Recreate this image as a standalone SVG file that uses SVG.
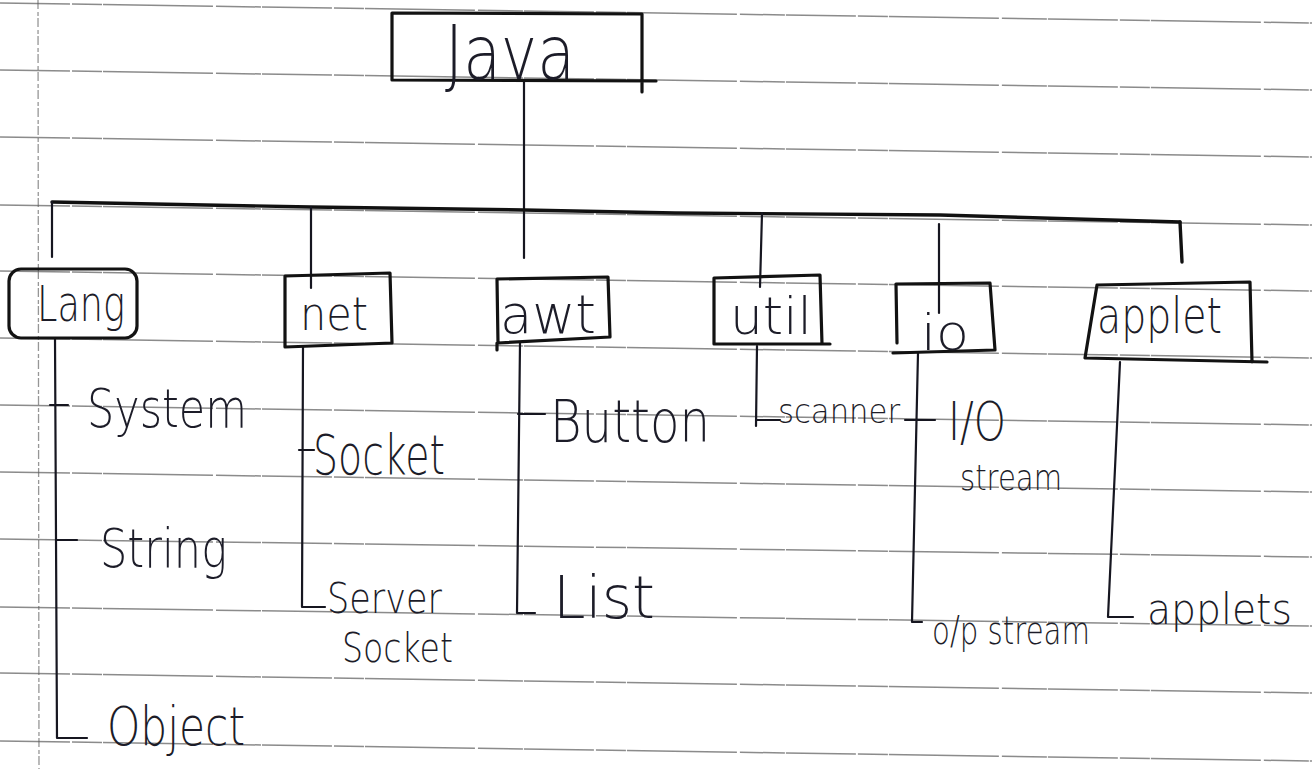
<svg xmlns="http://www.w3.org/2000/svg" width="1312" height="769" viewBox="0 0 1312 769">
<style>
.rule{stroke:#5a5a5a;stroke-width:1.5;stroke-opacity:.7;stroke-dasharray:70 2 30 1 110 3 45 1;fill:none}
.margin{stroke:#6a6a6a;stroke-width:1.3;stroke-opacity:.7;stroke-dasharray:9 3 4 2;fill:none}
.box{fill:none;stroke:#121212;stroke-width:3.2;stroke-linejoin:round;stroke-linecap:round}
.wire{fill:none;stroke:#161620;stroke-width:2.2;stroke-linecap:round;stroke-linejoin:round}
.bar{fill:none;stroke:#111;stroke-width:3.4;stroke-linecap:round;stroke-linejoin:round}
text{font-family:"DejaVu Sans","Liberation Sans",sans-serif;font-weight:200;fill:#1c1c28}
</style>
<rect width="1312" height="769" fill="#ffffff"/>
<g id="paper">
<line class="margin" x1="38" y1="0" x2="39" y2="769"/>
<line class="rule" x1="0" y1="3" x2="1312" y2="23"/>
<line class="rule" x1="0" y1="70" x2="1312" y2="90"/>
<line class="rule" x1="0" y1="137" x2="1312" y2="157"/>
<line class="rule" x1="0" y1="205" x2="1312" y2="225"/>
<line class="rule" x1="0" y1="271" x2="1312" y2="291"/>
<line class="rule" x1="0" y1="338" x2="1312" y2="358"/>
<line class="rule" x1="0" y1="405" x2="1312" y2="425"/>
<line class="rule" x1="0" y1="472" x2="1312" y2="492"/>
<line class="rule" x1="0" y1="539" x2="1312" y2="557"/>
<line class="rule" x1="0" y1="607" x2="1312" y2="626"/>
<line class="rule" x1="0" y1="673" x2="1312" y2="693"/>
<line class="rule" x1="0" y1="741" x2="1312" y2="761"/>
</g>
<g id="connectors">
<path class="wire" d="M524 80 L524 258"/>
<path class="bar" d="M52 202 L311 207 L524 210 L675 213 L940 215 L1180 222"/>
<path class="wire" d="M52 202 L52 257"/>
<path class="wire" d="M311 207 L311 288"/>
<path class="wire" d="M762 213 L760 287"/>
<path class="wire" d="M939 224 L939 313"/>
<path class="bar" d="M1180 222 L1182 262"/>
<path class="wire" d="M55 338 L57 738 L87 738"/>
<path class="wire" d="M50 405 L68 405"/>
<path class="wire" d="M57 540 L77 540"/>
<path class="wire" d="M303 347 L302 607 L325 607"/>
<path class="wire" d="M299 450 L314 450"/>
<path class="wire" d="M520 343 L517 613 L535 613"/>
<path class="wire" d="M518 414 L545 414"/>
<path class="wire" d="M757 346 L756 426"/>
<path class="wire" d="M756 420 L780 420"/>
<path class="wire" d="M918 353 L912 622 L922 622"/>
<path class="wire" d="M905 420 L935 420"/>
<path class="wire" d="M1120 362 L1108 617 L1133 617"/>
</g>
<g id="node-java">
<path class="box" d="M392 13 L642 14 L642 92 M392 13 L392 80 L656 81"/>
<text x="445" y="79" font-size="74" textLength="130" lengthAdjust="spacingAndGlyphs">Java</text>
</g>
<g id="node-lang">
<rect class="box" x="9" y="269" width="128" height="69" rx="12" ry="12"/>
<text x="37" y="321" font-size="50" textLength="88" lengthAdjust="spacingAndGlyphs">Lang</text>
</g>
<g id="node-net">
<path class="box" d="M285 276 L390 273 L392 343 L285 347 Z"/>
<text x="300" y="330" font-size="46" textLength="68" lengthAdjust="spacingAndGlyphs">net</text>
</g>
<g id="node-awt">
<path class="box" d="M497 279 L608 277 L610 337 L498 343 Z M497 343 L497 350"/>
<text x="500" y="333" font-size="54" textLength="96" lengthAdjust="spacingAndGlyphs">awt</text>
</g>
<g id="node-util">
<path class="box" d="M714 278 L820 275 L822 344 L714 344 Z M820 344 L830 344"/>
<text x="730" y="334" font-size="52" textLength="82" lengthAdjust="spacingAndGlyphs">util</text>
</g>
<g id="node-io">
<path class="box" d="M897 343 L896 284 L990 283 L995 350 L893 353"/>
<text x="921" y="350" font-size="50" textLength="48" lengthAdjust="spacingAndGlyphs">io</text>
</g>
<g id="node-applet">
<path class="box" d="M1097 285 L1250 282 L1252 362 M1097 285 L1085 358 L1267 362"/>
<text x="1097" y="333" font-size="50" textLength="125" lengthAdjust="spacingAndGlyphs">applet</text>
</g>
<g id="node-system"><text x="87" y="427" font-size="54" textLength="160" lengthAdjust="spacingAndGlyphs">System</text></g>
<g id="node-string"><text x="100" y="567" font-size="54" textLength="127" lengthAdjust="spacingAndGlyphs">String</text></g>
<g id="node-object"><text x="107" y="745" font-size="54" textLength="138" lengthAdjust="spacingAndGlyphs">Object</text></g>
<g id="node-socket"><text x="313" y="474" font-size="56" textLength="132" lengthAdjust="spacingAndGlyphs">Socket</text></g>
<g id="node-serversocket">
<text x="327" y="613" font-size="42" textLength="115" lengthAdjust="spacingAndGlyphs">Server</text>
<text x="342" y="662" font-size="40" textLength="111" lengthAdjust="spacingAndGlyphs">Socket</text>
</g>
<g id="node-button"><text x="550" y="442" font-size="58" textLength="160" lengthAdjust="spacingAndGlyphs">Button</text></g>
<g id="node-list"><text x="553" y="618" font-size="58" textLength="102" lengthAdjust="spacingAndGlyphs">List</text></g>
<g id="node-scanner"><text x="778" y="423" font-size="34" textLength="122" lengthAdjust="spacingAndGlyphs">scanner</text></g>
<g id="node-iostream">
<text x="948" y="440" font-size="54" textLength="58" lengthAdjust="spacingAndGlyphs">I/O</text>
<text x="960" y="490" font-size="36" textLength="102" lengthAdjust="spacingAndGlyphs">stream</text>
</g>
<g id="node-opstream"><text x="932" y="644" font-size="39" textLength="158" lengthAdjust="spacingAndGlyphs">o/p stream</text></g>
<g id="node-applets"><text x="1147" y="624" font-size="42" textLength="145" lengthAdjust="spacingAndGlyphs">applets</text></g>
</svg>
